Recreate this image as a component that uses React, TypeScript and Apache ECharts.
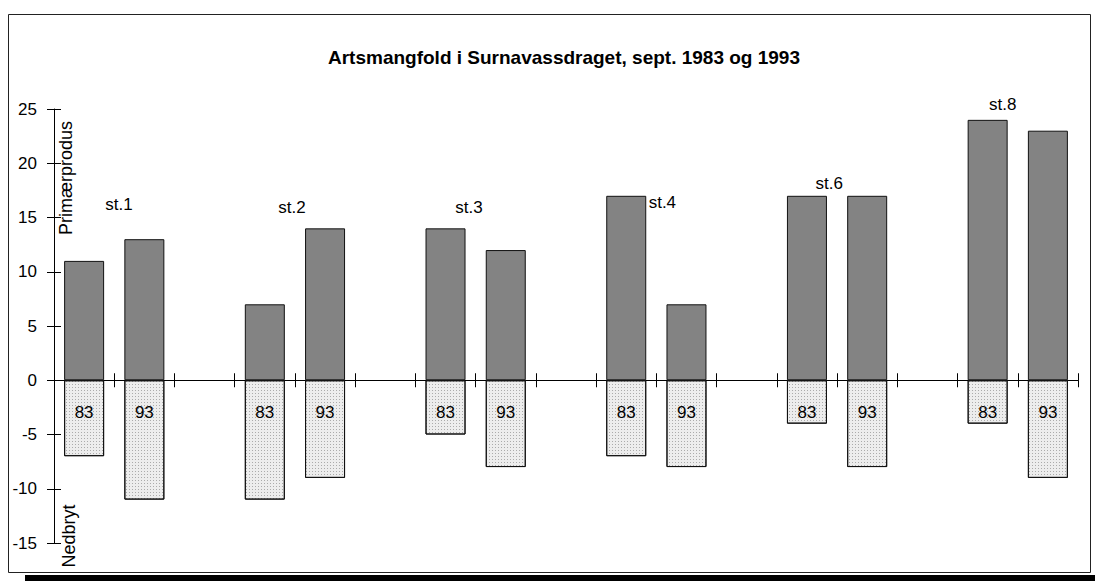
import React, { useEffect, useRef } from "react";
import * as echarts from "echarts";

// ---- data ----
const stations = ["st.1", "st.2", "st.3", "st.4", "st.6", "st.8"];
const years = ["83", "93"];
const primaer83 = [11, 7, 14, 17, 17, 24];
const primaer93 = [13, 14, 12, 7, 17, 23];
const nedbryt83 = [-7, -11, -5, -7, -4, -4];
const nedbryt93 = [-11, -9, -8, -8, -8, -9];
const yTicks = { min: -15, max: 25, interval: 5 };
const title = "Artsmangfold i Surnavassdraget, sept. 1983 og 1993";
const axisNameTop = "Primærprodus";
const axisNameBottom = "Nedbryt";

// label anchors (category offset, value) for station names
const stationLabelAnchor: [number, number][] = [
  [0.58, 16.2],
  [3.45, 15.9],
  [6.39, 15.9],
  [9.6, 16.4],
  [12.37, 18.1],
  [15.25, 25.4],
];

// build category table (two years + gap per station)
const categories: string[] = [];
const yearLabels: string[] = [];
const primaerData: (number | null)[] = [];
const nedbrytData: (number | null)[] = [];
stations.forEach((s, i) => {
  years.forEach((y, j) => {
    categories.push(`${s} ${y}`);
    yearLabels.push(y);
    primaerData.push(j === 0 ? primaer83[i] : primaer93[i]);
    nedbrytData.push(j === 0 ? nedbryt83[i] : nedbryt93[i]);
  });
  if (i < stations.length - 1) {
    categories.push(`${s} gap`);
    yearLabels.push("");
    primaerData.push(null);
    nedbrytData.push(null);
  }
});

const FONT = "Liberation Sans";

export default function App() {
  const ref = useRef<HTMLDivElement>(null);
  useEffect(() => {
    document.body.style.margin = "0";
    if (!ref.current) return;
    const chart = echarts.init(ref.current, undefined, { renderer: "svg" });
    const xBase = {
      type: "category" as const,
      data: categories,
      position: "bottom" as const,
      boundaryGap: true,
      axisLabel: { show: false },
      splitLine: { show: false },
    };
    const yBase = {
      type: "value" as const,
      min: yTicks.min,
      max: yTicks.max,
      interval: yTicks.interval,
      position: "left" as const,
      splitLine: { show: false },
    };
    chart.setOption({
      animation: false,
      backgroundColor: "#ffffff",
      textStyle: { fontFamily: FONT },
      grid: { left: 54, right: 17, top: 109, bottom: 38, containLabel: false },
      xAxis: [
        {
          ...xBase,
          axisLine: { show: true, onZero: true, onZeroAxisIndex: 0, lineStyle: { color: "#000", width: 1 } },
          axisTick: { show: true, inside: false, length: 7, lineStyle: { color: "#000" } },
        },
        {
          ...xBase,
          axisLine: { show: true, onZero: true, onZeroAxisIndex: 1, lineStyle: { color: "#000", width: 1 } },
          axisTick: { show: true, inside: true, length: 7, lineStyle: { color: "#000" } },
        },
      ],
      yAxis: [
        {
          ...yBase,
          axisLine: { show: true, lineStyle: { color: "#000", width: 1 } },
          axisTick: { show: true, inside: false, length: 7, lineStyle: { color: "#000" } },
          axisLabel: { color: "#000", fontSize: 17, fontFamily: FONT, margin: 17 },
        },
        {
          ...yBase,
          axisLine: { show: false },
          axisTick: { show: true, inside: true, length: 7, lineStyle: { color: "#000" } },
          axisLabel: { show: false },
        },
      ],
      series: [
        {
          name: "Primærprodus",
          type: "bar",
          stack: "s",
          xAxisIndex: 0,
          yAxisIndex: 0,
          barWidth: 40,
          data: primaerData,
          itemStyle: { color: "#838383", borderColor: "#111", borderWidth: 1 },
        },
        {
          name: "Nedbryt",
          type: "bar",
          stack: "s",
          xAxisIndex: 0,
          yAxisIndex: 0,
          barWidth: 40,
          data: nedbrytData,
          itemStyle: {
            color: "#ededed",
            borderColor: "#111",
            borderWidth: 1,
            decal: {
              symbol: "rect",
              symbolSize: 1,
              color: "rgba(0,0,0,0.28)",
              dashArrayX: [1, 2],
              dashArrayY: [1, 2],
              rotation: 0,
            },
          },
          label: {
            show: true,
            position: "insideTop",
            distance: 24,
            color: "#000",
            fontSize: 17,
            fontFamily: FONT,
            formatter: (p: any) => yearLabels[p.dataIndex],
          },
        },
      ],
    });

    const p0 = chart.convertToPixel({ xAxisIndex: 0, yAxisIndex: 0 }, [0, 0]) as number[];
    const p1 = chart.convertToPixel({ xAxisIndex: 0, yAxisIndex: 0 }, [1, 0]) as number[];
    const step = p1[0] - p0[0];
    const stationTexts = stations.map((s, i) => {
      const [f, v] = stationLabelAnchor[i];
      const py = chart.convertToPixel({ xAxisIndex: 0, yAxisIndex: 0 }, [0, v]) as number[];
      return {
        type: "text",
        x: p0[0] + f * step,
        y: py[1],
        style: {
          text: s,
          fill: "#000",
          font: `17px "${FONT}"`,
          align: "center",
          verticalAlign: "middle",
        },
      };
    });

    chart.setOption({
      graphic: [
        {
          type: "rect",
          shape: { x: 8.5, y: 14.5, width: 1082, height: 558 },
          style: { fill: "none", stroke: "#222", lineWidth: 1 },
          silent: true,
        },
        {
          type: "rect",
          shape: { x: 25, y: 575, width: 1070, height: 6 },
          style: { fill: "#000" },
          silent: true,
        },
        {
          type: "text",
          x: 564,
          y: 57,
          style: {
            text: title,
            fill: "#000",
            font: `bold 19px "${FONT}"`,
            align: "center",
            verticalAlign: "middle",
          },
        },
        {
          type: "text",
          x: 66,
          y: 178,
          rotation: Math.PI / 2,
          style: {
            text: axisNameTop,
            fill: "#000",
            font: `18px "${FONT}"`,
            align: "center",
            verticalAlign: "middle",
          },
        },
        {
          type: "text",
          x: 69,
          y: 536,
          rotation: Math.PI / 2,
          style: {
            text: axisNameBottom,
            fill: "#000",
            font: `18px "${FONT}"`,
            align: "center",
            verticalAlign: "middle",
          },
        },
        ...stationTexts,
      ],
    });

    return () => chart.dispose();
  }, []);
  return <div ref={ref} style={{ width: 1095, height: 581 }} />;
}
